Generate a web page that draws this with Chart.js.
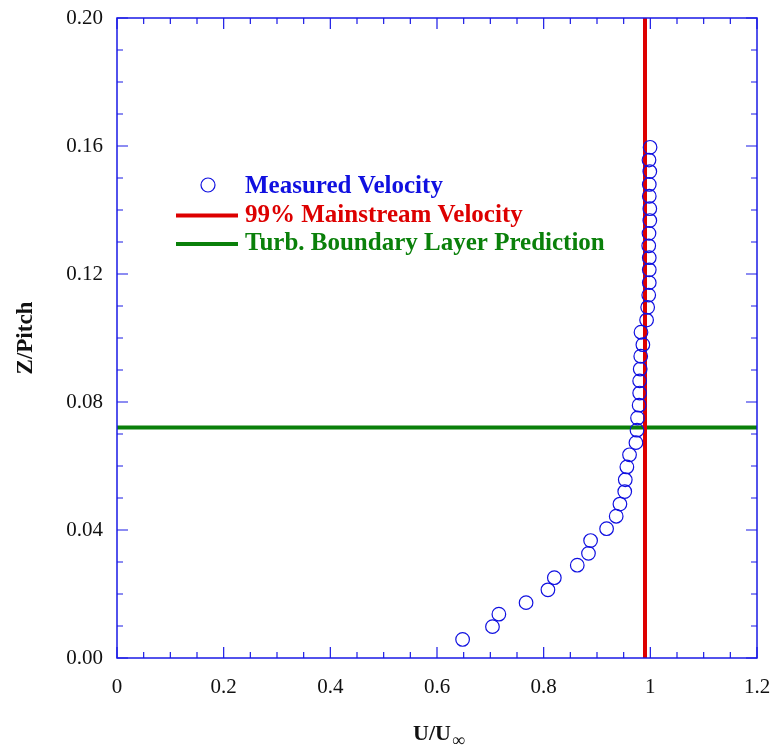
<!DOCTYPE html>
<html>
<head>
<meta charset="utf-8">
<script src="https://cdn.jsdelivr.net/npm/chart.js@4/dist/chart.umd.min.js"></script>
<style>
  html, body { margin: 0; padding: 0; background: #fff; }
  #wrap { width: 772px; height: 750px; }
</style>
</head>
<body>
<div id="wrap"><canvas id="myChart"></canvas></div>
<script>
// measured profile: U/Uinf (x) against Z/Pitch (y)
let velU = [0.648, 0.704, 0.716, 0.767, 0.808, 0.820, 0.863, 0.884, 0.888, 0.918,
            0.936, 0.943, 0.952, 0.953, 0.956, 0.961, 0.973, 0.975, 0.976, 0.979,
            0.980, 0.980, 0.981, 0.982, 0.986, 0.9825, 0.993, 0.995, 0.997, 0.998,
            0.998, 0.998, 0.997, 0.9975, 0.999, 0.999, 0.998, 0.998, 0.999, 0.9975, 0.9995];
let zPitch = [0.0058, 0.0098, 0.0137, 0.0173, 0.0213, 0.0251, 0.0290, 0.0327, 0.0367, 0.0404,
              0.0443, 0.0481, 0.0520, 0.0557, 0.0597, 0.0635, 0.0673, 0.0712, 0.0750, 0.0790,
              0.0828, 0.0866, 0.0903, 0.0943, 0.0979, 0.1018, 0.1056, 0.1096, 0.1134, 0.1173,
              0.1213, 0.1251, 0.1288, 0.1327, 0.1367, 0.1404, 0.1443, 0.1480, 0.1520, 0.1556, 0.1596];

let mainstream99 = 0.99;     // 99% mainstream velocity
let blPrediction = 0.072;    // turbulent boundary layer prediction

let xTicks = [0, 0.2, 0.4, 0.6, 0.8, 1, 1.2];
let yTicks = [0, 0.04, 0.08, 0.12, 0.16, 0.20];

let legendNames = ['Measured Velocity', '99% Mainstream Velocity', 'Turb. Boundary Layer Prediction'];
let legendColors = ['#1010e0', '#dd0000', '#0a800a'];

let axisColor = '#1a1ae6';
let serif = '"Liberation Serif", "DejaVu Serif", serif';

let points = velU.map((u, i) => ({ x: u, y: zPitch[i] }));

// frame + inward ticks on all four sides
let framePlugin = {
    id: 'frame',
    afterDatasetsDraw(chart) {
        let c = chart.ctx, a = chart.chartArea;
        let xs = chart.scales.x, ys = chart.scales.y;
        c.save();
        c.strokeStyle = axisColor;
        c.lineWidth = 1.5;
        c.strokeRect(a.left, a.top, a.right - a.left, a.bottom - a.top);
        c.lineWidth = 1.2;
        c.beginPath();
        for (let i = 0; i <= 24; i++) {
            let px = xs.getPixelForValue(i * 0.05);
            let len = (i % 4 === 0) ? 11 : 6;
            c.moveTo(px, a.bottom); c.lineTo(px, a.bottom - len);
            c.moveTo(px, a.top); c.lineTo(px, a.top + len);
        }
        for (let i = 0; i <= 20; i++) {
            let py = ys.getPixelForValue(i * 0.01);
            let len = (i % 4 === 0) ? 11 : 6;
            c.moveTo(a.left, py); c.lineTo(a.left + len, py);
            c.moveTo(a.right, py); c.lineTo(a.right - len, py);
        }
        c.stroke();
        c.restore();
    }
};

// legend inside the plot area, plus the x title with its subscript
let textPlugin = {
    id: 'insideLegend',
    afterDraw(chart) {
        let c = chart.ctx;
        let lx = 176, tx = 245, y0 = 187, dy = 28.5;
        c.save();
        c.font = 'bold 25px ' + serif;
        c.textBaseline = 'middle';
        legendNames.forEach((name, i) => {
            let y = y0 + i * dy;
            if (i === 0) {
                c.strokeStyle = legendColors[0];
                c.lineWidth = 1.2;
                c.beginPath();
                c.arc(208, y - 2, 7, 0, Math.PI * 2);
                c.stroke();
            } else {
                c.strokeStyle = legendColors[i];
                c.lineWidth = 4;
                c.beginPath();
                c.moveTo(lx, y); c.lineTo(lx + 62, y);
                c.stroke();
            }
            c.fillStyle = legendColors[i];
            c.fillText(name, tx, y);
        });

        // x axis title: U/U with a subscript infinity
        c.fillStyle = '#111';
        c.textBaseline = 'alphabetic';
        c.font = 'bold 22px ' + serif;
        let main = 'U/U';
        let w = c.measureText(main).width;
        let x0 = 413;
        c.fillText(main, x0, 740);
        c.font = '18px ' + serif;
        c.fillText('∞', x0 + w + 1, 746);
        c.restore();
    }
};

let chart = new Chart(document.getElementById('myChart').getContext('2d'), {
    type: 'scatter',
    data: {
        datasets: [
            {
                label: legendNames[1],
                type: 'line',
                data: [{ x: mainstream99, y: 0 }, { x: mainstream99, y: 0.2 }],
                borderColor: legendColors[1],
                borderWidth: 4,
                pointRadius: 0,
                order: 2
            },
            {
                label: legendNames[2],
                type: 'line',
                data: [{ x: 0, y: blPrediction }, { x: 1.2, y: blPrediction }],
                borderColor: legendColors[2],
                borderWidth: 4,
                pointRadius: 0,
                order: 3
            },
            {
                label: legendNames[0],
                data: points,
                pointStyle: 'circle',
                pointRadius: 6.8,
                pointBorderWidth: 1.2,
                borderColor: legendColors[0],
                backgroundColor: 'rgba(0,0,0,0)',
                order: 1
            }
        ]
    },
    options: {
        responsive: true,
        maintainAspectRatio: false,
        animation: false,
        layout: { padding: { left: 0, right: 15, top: 18, bottom: 0 } },
        plugins: {
            legend: { display: false },
            tooltip: { enabled: false }
        },
        scales: {
            x: {
                type: 'linear',
                min: 0,
                max: 1.2,
                afterBuildTicks: s => { s.ticks = xTicks.map(v => ({ value: v })); },
                afterFit: s => { s.height = 92; s.paddingLeft = 0; s.paddingRight = 0; },
                grid: { display: false, drawTicks: false },
                border: { display: false },
                ticks: {
                    color: '#111',
                    font: { family: serif, size: 21 },
                    padding: 17,
                    callback: v => String(+v.toFixed(1))
                }
            },
            y: {
                type: 'linear',
                min: 0,
                max: 0.2,
                afterBuildTicks: s => { s.ticks = yTicks.map(v => ({ value: v })); },
                afterFit: s => { s.width = 117; s.paddingTop = 0; s.paddingBottom = 0; },
                grid: { display: false, drawTicks: false },
                border: { display: false },
                ticks: {
                    color: '#111',
                    font: { family: serif, size: 21 },
                    padding: 14,
                    callback: v => v.toFixed(2)
                },
                title: {
                    display: true,
                    text: 'Z/Pitch',
                    color: '#111',
                    font: { family: serif, size: 23, weight: 'bold' },
                    padding: { top: 12 }
                }
            }
        }
    },
    plugins: [framePlugin, textPlugin]
});
</script>
</body>
</html>
